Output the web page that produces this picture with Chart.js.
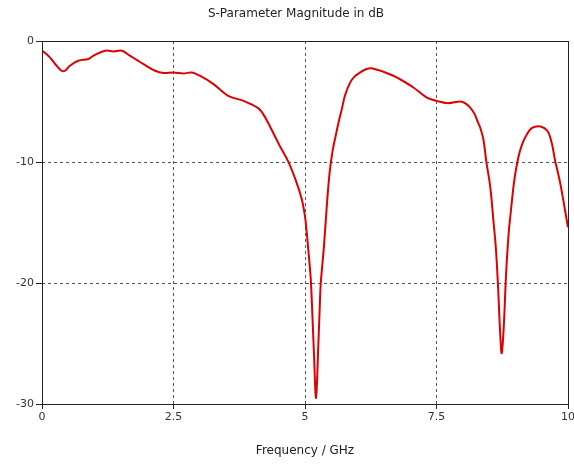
<!DOCTYPE html>
<html>
<head>
<meta charset="utf-8">
<script src="https://cdn.jsdelivr.net/npm/chart.js@4"></script>
<style>
  body { margin: 0; background: #fff; }
</style>
</head>
<body>
<canvas id="sparamChart" width="574" height="465"></canvas>
<script>
// S11 magnitude vs frequency
const freqGHz = [
  0.00, 0.05, 0.15, 0.25, 0.37, 0.44, 0.53, 0.69, 0.88, 0.98,
  1.20, 1.36, 1.52, 1.67, 1.93, 2.15, 2.31, 2.50, 2.69, 2.85,
  3.00, 3.26, 3.54, 3.83, 4.11, 4.20, 4.33, 4.52, 4.68, 4.84,
  4.94, 5.00, 5.03, 5.08, 5.11, 5.14, 5.17, 5.21, 5.25, 5.28,
  5.30, 5.36, 5.42, 5.47, 5.52, 5.58, 5.64, 5.70, 5.76, 5.86,
  5.95, 6.05, 6.15, 6.27, 6.68, 7.06, 7.31, 7.50, 7.72, 7.95,
  8.05, 8.14, 8.22, 8.29, 8.33, 8.39, 8.45, 8.52, 8.58, 8.63,
  8.67, 8.71, 8.74, 8.78, 8.82, 8.87, 8.92, 8.97, 9.02, 9.08,
  9.15, 9.22, 9.31, 9.44, 9.55, 9.63, 9.70, 9.75, 9.85, 10.00
];
const magDB = [
  -0.80, -0.95, -1.35, -1.90, -2.46, -2.46, -2.04, -1.63, -1.49, -1.21,
  -0.80, -0.86, -0.80, -1.21, -1.91, -2.46, -2.65, -2.60, -2.68, -2.60,
  -2.87, -3.56, -4.53, -4.95, -5.55, -6.00, -7.02, -8.67, -9.95, -11.7,
  -13.1, -14.5, -15.7, -18.1, -19.7, -22.6, -25.8, -29.5, -25.5, -22.0,
  -20.0, -17.0, -13.3, -10.8, -9.20, -7.90, -6.70, -5.63, -4.50, -3.42,
  -2.90, -2.60, -2.35, -2.26, -2.87, -3.84, -4.66, -4.95, -5.14, -5.00,
  -5.15, -5.50, -6.00, -6.74, -7.15, -8.10, -10.05, -12.0, -14.75, -17.2,
  -20.3, -24.1, -25.8, -23.5, -19.5, -16.0, -13.8, -11.8, -10.4, -9.20,
  -8.30, -7.70, -7.20, -7.05, -7.20, -7.57, -8.60, -9.78, -11.7, -15.4
];
const xTicks = [0, 2.5, 5, 7.5, 10];
const yTicks = [0, -10, -20, -30];

const FONT = 'DejaVu Sans';

// plot frame and title
const framePlugin = {
  id: 'frame',
  afterDraw(chart) {
    const { ctx, chartArea: a } = chart;
    ctx.save();
    ctx.strokeStyle = '#222';
    ctx.lineWidth = 1;
    ctx.strokeRect(Math.round(a.left) + 0.5, Math.round(a.top) + 0.5,
      Math.round(a.right - a.left), Math.round(a.bottom - a.top));
    ctx.fillStyle = '#222';
    ctx.font = '12px "' + FONT + '"';
    ctx.textAlign = 'center';
    ctx.textBaseline = 'middle';
    ctx.fillText('S-Parameter Magnitude in dB', 296, 14);
    ctx.restore();
  }
};

const innerGrid = (edges) => (c) =>
  edges.includes(c.tick && c.tick.value) ? 'rgba(0,0,0,0)' : '#555';

new Chart(document.getElementById('sparamChart'), {
  type: 'line',
  data: {
    datasets: [{
      data: freqGHz.map((f, i) => ({ x: f, y: magDB[i] })),
      borderColor: 'rgb(222,0,0)',
      borderWidth: 2,
      pointRadius: 0,
      tension: 0.35,
      fill: false
    }]
  },
  options: {
    responsive: false,
    animation: false,
    layout: { padding: { top: 41, right: 0, left: 0, bottom: 0 } },
    plugins: {
      legend: { display: false },
      tooltip: { enabled: false }
    },
    scales: {
      x: {
        type: 'linear',
        min: 0,
        max: 10,
        afterBuildTicks: s => { s.ticks = xTicks.map(v => ({ value: v })); },
        afterFit: s => { s.height = 61; s.paddingLeft = 0; s.paddingRight = 6; },
        grid: {
          color: innerGrid([0, 10]),
          tickColor: '#222',
          tickLength: 5,
          tickBorderDash: []
        },
        border: { display: false, dash: [3, 3] },
        ticks: {
          color: '#333',
          font: { family: FONT, size: 11 },
          padding: 2,
          maxRotation: 0
        },
        title: {
          display: true,
          text: 'Frequency / GHz',
          color: '#222',
          font: { family: FONT, size: 12 },
          padding: { top: 7, bottom: 7 }
        }
      },
      y: {
        min: -30,
        max: 0,
        afterBuildTicks: s => { s.ticks = yTicks.map(v => ({ value: v })); },
        afterFit: s => { s.width = 42; },
        grid: {
          color: innerGrid([0, -30]),
          tickColor: '#222',
          tickLength: 6,
          tickBorderDash: []
        },
        border: { display: false, dash: [3, 3] },
        ticks: {
          color: '#333',
          font: { family: FONT, size: 11 },
          padding: 2
        }
      }
    }
  },
  plugins: [framePlugin]
});
</script>
</body>
</html>
